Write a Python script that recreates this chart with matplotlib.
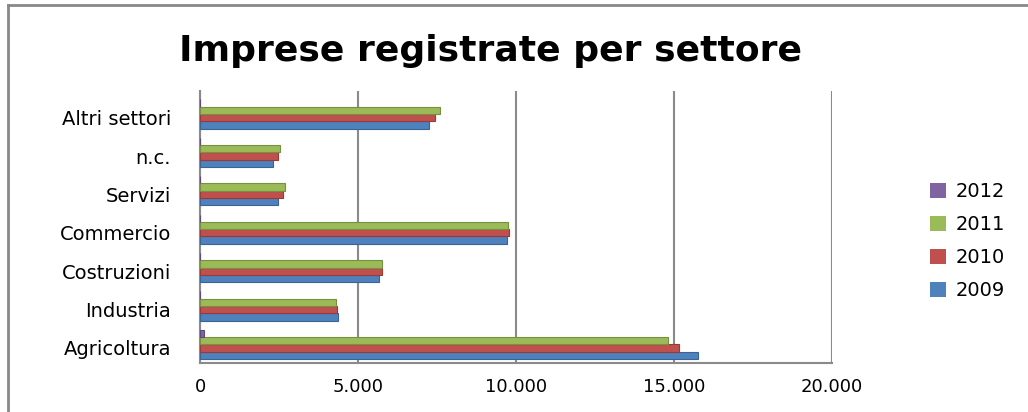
import matplotlib
matplotlib.use("Agg")
import matplotlib.pyplot as plt
from matplotlib.lines import Line2D
from matplotlib.patches import Patch
import numpy as np

categories = ["Agricoltura", "Industria", "Costruzioni", "Commercio", "Servizi", "n.c.", "Altri settori"]
years = ["2009", "2010", "2011", "2012"]
v2009 = [15760, 4360, 5650, 9700, 2470, 2310, 7260]
v2010 = [15150, 4330, 5750, 9790, 2620, 2460, 7420]
v2011 = [14810, 4290, 5750, 9740, 2680, 2530, 7580]
v2012 = [110, 0, 0, 0, 0, 0, 0]
xticks = [0, 5000, 10000, 15000, 20000]
xticklabels = ["0", "5.000", "10.000", "15.000", "20.000"]

colors = ["#4F81BD", "#C0504D", "#9BBB59", "#8064A2"]
dark = ["#3A6398", "#973B39", "#76913F", "#5F4A7E"]
series = [v2009, v2010, v2011, v2012]

fig = plt.figure(figsize=(10.28, 4.12), dpi=100)
ax = fig.add_axes([0.1946, 0.12, 0.6148, 0.6597])

y = np.arange(len(categories))
h = 0.19
offsets = [-h, 0, h, 2 * h]
for vals, off, c, d in zip(series, offsets, colors, dark):
    ax.barh(y + off, vals, height=h, color=c, edgecolor=d, linewidth=0.8, zorder=3)

ax.set_xlim(0, 20000)
ax.set_ylim(-0.38, 6.7)
ax.set_xticks(xticks)
ax.set_xticklabels(xticklabels, fontsize=13)
ax.set_yticks(y)
ax.set_yticklabels(categories, fontsize=14)
ax.tick_params(axis="both", length=0)
ax.tick_params(axis="x", pad=11)
ax.tick_params(axis="y", pad=21)
ax.grid(axis="x", color="#8A8A8A", linewidth=1.5, zorder=1)
for s in ["top", "right"]:
    ax.spines[s].set_visible(False)
for s in ["left", "bottom"]:
    ax.spines[s].set_color("#8A8A8A")
    ax.spines[s].set_linewidth(1.5)

fig.text(0.477, 0.875, "Imprese registrate per settore", fontsize=26, fontweight="bold",
         ha="center", va="center")

handles = [Patch(facecolor=c) for c in colors[::-1]]
leg = fig.legend(handles, years[::-1], loc="center left", bbox_to_anchor=(0.888, 0.415),
                 frameon=False, fontsize=14, handlelength=0.8, handleheight=0.8,
                 labelspacing=0.72, handletextpad=0.5)

fig.add_artist(Line2D([8 / 1028, 8 / 1028], [0, 1 - 5 / 412], color="#888888", linewidth=2))
fig.add_artist(Line2D([8 / 1028, 1], [1 - 5 / 412, 1 - 5 / 412], color="#888888", linewidth=2))

fig.savefig("out.png", dpi=100)
